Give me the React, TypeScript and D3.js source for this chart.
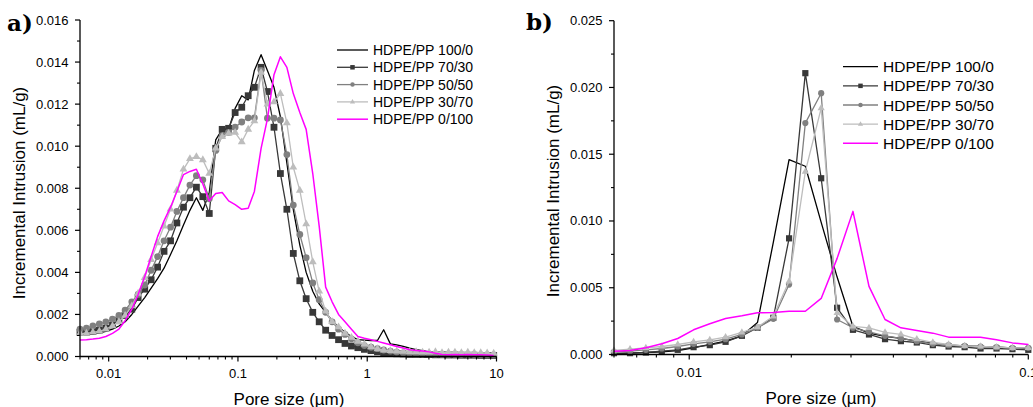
import React from 'react';
import * as d3 from 'd3';

// ---------- Panel a) : pore size grid (µm) ----------
const poreA = [
  0.00600, 0.00673, 0.00755, 0.00847, 0.00951, 0.0107, 0.0120, 0.0134, 0.0151, 0.0169,
  0.0190, 0.0213, 0.0239, 0.0268, 0.0301, 0.0337, 0.0379, 0.0425, 0.0477, 0.0535,
  0.0600, 0.0673, 0.0755, 0.0847, 0.0951, 0.107, 0.120, 0.134, 0.151, 0.169,
  0.190, 0.213, 0.239, 0.268, 0.301, 0.337, 0.379, 0.425, 0.477, 0.535,
  0.600, 0.673, 0.755, 0.847, 0.951, 1.07, 1.20, 1.34, 1.51, 1.69,
  1.90, 2.13, 2.39, 2.68, 3.01, 3.37, 3.79, 4.25, 4.77, 5.35,
  6.00, 6.73, 7.55, 8.47, 9.51,
];
// incremental intrusion, in 10^-3 mL/g
const a100_0 = [
  1.05, 1.05, 1.07, 1.12, 1.2, 1.3, 1.45, 1.65, 2.0, 2.4,
  2.8, 3.25, 3.7, 4.2, 4.85, 5.5, 6.25, 6.95, 7.55, 6.95,
  7.8, 10.3, 10.8, 10.8, 11.8, 12.4, 12.2, 13.6, 14.35, 13.6,
  12.8, 11.4, 9.2, 7.0, 5.3, 4.0, 3.1, 2.5, 2.1, 1.7,
  1.4, 1.15, 0.95, 0.8, 0.78, 0.76, 0.76, 1.27, 0.6, 0.55,
  0.48, 0.4, 0.33, 0.28, 0.22, 0.18, 0.15, 0.12, 0.1, 0.1,
  0.09, 0.08, 0.08, 0.07, 0.06,
];
const a70_30 = [
  1.15, 1.15, 1.2, 1.25, 1.35, 1.5, 1.7, 1.95, 2.25, 2.8,
  3.2, 3.65, 4.25, 5.0, 5.5, 6.35, 7.1, 7.55, 8.05, 7.6,
  6.8, 9.9, 10.8, 10.85, 11.6, 11.85, 12.4, 12.8, 13.75, 12.6,
  10.9, 8.7, 7.0, 4.9, 3.6, 2.75, 2.1, 1.65, 1.25, 1.0,
  0.8, 0.62, 0.5, 0.42, 0.34, 0.28, 0.22, 0.18, 0.15, 0.13,
  0.12, 0.1, 0.1, 0.09, 0.09, 0.08, 0.08, 0.07, 0.07, 0.06,
  0.06, 0.06, 0.05, 0.05, 0.05,
];
const a50_50 = [
  1.3, 1.35, 1.45, 1.55, 1.65, 1.78, 1.95, 2.2, 2.6, 2.95,
  3.4, 4.1, 4.75, 5.5, 6.15, 6.9, 7.55, 8.15, 8.6, 8.4,
  7.5, 9.8, 10.5, 10.65, 10.9, 11.15, 11.35, 11.35, 13.6, 11.33,
  11.33, 11.25, 9.6, 7.2, 5.8, 4.7, 3.5, 2.7, 2.1, 1.65,
  1.3, 1.05, 0.84, 0.65, 0.52, 0.44, 0.37, 0.31, 0.26, 0.21,
  0.17, 0.15, 0.13, 0.12, 0.12, 0.11, 0.1, 0.1, 0.1, 0.09,
  0.09, 0.09, 0.08, 0.08, 0.08,
];
const a30_70 = [
  1.1, 1.1, 1.15, 1.2, 1.3, 1.45, 1.65, 1.95, 2.4, 3.0,
  3.75, 4.6, 5.4, 6.2, 7.0, 7.9, 8.9, 9.4, 9.5, 9.35,
  8.7, 9.9, 10.45, 10.6, 10.65, 10.2, 10.8, 11.2, 13.5, 12.0,
  12.1, 12.5, 11.1, 9.0, 7.9, 6.3, 4.5, 3.1, 2.15, 1.65,
  1.4, 1.1, 0.9, 0.72, 0.58, 0.45, 0.36, 0.3, 0.27, 0.25,
  0.24, 0.22, 0.22, 0.2, 0.2, 0.22, 0.18, 0.2, 0.2, 0.18,
  0.2, 0.18, 0.18, 0.16, 0.15,
];
const a0_100 = [
  0.79, 0.8, 0.83, 0.87, 0.95, 1.1, 1.3, 1.7, 2.25, 2.95,
  3.8, 4.75, 5.7, 6.45, 7.1, 7.85, 8.65, 8.8, 8.9, 8.2,
  7.4, 7.75, 7.8, 7.4, 7.22, 7.0, 7.05, 7.85, 9.9, 11.3,
  13.4, 14.25, 13.75, 12.5, 11.6, 10.8, 8.7, 6.2, 3.3, 2.6,
  2.0, 1.65, 1.3, 0.95, 0.87, 0.8, 0.72, 0.64, 0.56, 0.48,
  0.4, 0.32, 0.29, 0.26, 0.22, 0.15, 0.09, 0.08, 0.09, 0.08,
  0.09, 0.08, 0.08, 0.07, 0.05,
];

// ---------- Panel b) ----------
const poreB = [
  0.00600, 0.00669, 0.00745, 0.00830, 0.00925, 0.0103, 0.0115, 0.0128, 0.0143, 0.0159,
  0.0177, 0.0197, 0.0220, 0.0245, 0.0273, 0.0304, 0.0339, 0.0378, 0.0421, 0.0469,
  0.0523, 0.0582, 0.0649, 0.0723, 0.0806, 0.0898, 0.100,
];
const b100_0 = [
  0.05, 0.1, 0.15, 0.2, 0.3, 0.5, 0.75, 1.0, 1.4, 2.4,
  8.4, 14.6, 14.1, 9.9, 5.8, 2.1, 1.6, 1.35, 1.2, 1.0,
  0.85, 0.7, 0.65, 0.6, 0.55, 0.5, 0.45,
];
const b70_30 = [
  0.1, 0.1, 0.15, 0.25, 0.35, 0.55, 0.7, 0.95, 1.4, 2.0,
  2.75, 8.7, 21.07, 13.2, 3.5, 1.85, 1.5, 1.15, 1.0, 0.9,
  0.7, 0.6, 0.55, 0.45, 0.45, 0.4, 0.35,
];
const b50_50 = [
  0.2, 0.25, 0.35, 0.45, 0.6, 0.8, 0.95, 1.15, 1.5, 2.0,
  2.67, 5.24, 17.33, 19.57, 2.62, 2.0, 1.7, 1.4, 1.2, 1.0,
  0.8, 0.7, 0.65, 0.6, 0.55, 0.5, 0.5,
];
const b30_70 = [
  0.3, 0.4, 0.5, 0.6, 0.75, 0.95, 1.1, 1.3, 1.65, 2.05,
  2.86, 5.48, 13.7, 18.45, 3.12, 2.1, 2.0, 1.65, 1.5, 1.15,
  0.9, 0.75, 0.65, 0.6, 0.55, 0.5, 0.5,
];
const b0_100 = [
  0.25, 0.3, 0.5, 0.8, 1.2, 1.85, 2.3, 2.7, 2.9, 3.12,
  3.15, 3.24, 3.24, 4.2, 7.2, 10.72, 5.1, 2.62, 2.0, 1.8,
  1.6, 1.3, 1.3, 1.3, 1.1, 0.87, 0.75,
];

const seriesNames = ['HDPE/PP 100/0', 'HDPE/PP 70/30', 'HDPE/PP 50/50', 'HDPE/PP 30/70', 'HDPE/PP 0/100'];

const yTicksA = [0, 0.002, 0.004, 0.006, 0.008, 0.01, 0.012, 0.014, 0.016];
const yTicksB = [0, 0.005, 0.01, 0.015, 0.02, 0.025];
const xTicksA = [0.01, 0.1, 1, 10];
const xLabelsA = ['0.01', '0.1', '1', '10'];
const xTicksB = [0.01, 0.1];
const xLabelsB = ['0.01', '0.1'];

const yTitle = 'Incremental Intrusion (mL/g)';
const xTitle = 'Pore size (µm)';

type Marker = 'none' | 'square' | 'circle' | 'triangle';
const styles: { color: string; marker: Marker; width: number }[] = [
  { color: '#000000', marker: 'none', width: 1.3 },
  { color: '#383838', marker: 'square', width: 1.3 },
  { color: '#808080', marker: 'circle', width: 1.3 },
  { color: '#bdbdbd', marker: 'triangle', width: 1.3 },
  { color: '#ff00ff', marker: 'none', width: 1.5 },
];

const FONT = '"Liberation Sans", Arial, sans-serif';

function markerPath(m: Marker, size: number): string {
  if (m === 'square') return d3.symbol(d3.symbolSquare, size * size)() as string;
  if (m === 'circle') return d3.symbol(d3.symbolCircle, Math.PI * (size / 2) * (size / 2))() as string;
  if (m === 'triangle') return d3.symbol(d3.symbolTriangle, (Math.sqrt(3) / 4) * size * size * 1.35)() as string;
  return '';
}

type PanelCfg = {
  label: string;
  labelX: number;
  labelY: number;
  pores: number[];
  series: number[][];
  xDomain: [number, number];
  xRange: [number, number];
  yDomain: [number, number];
  yRange: [number, number];
  yTicks: number[];
  xTicks: number[];
  xLabels: string[];
  yTitleX: number;
  yTitleY: number;
  xTitleX: number;
  xTitleY: number;
  xLabelY: number;
  legend: { x0: number; x1: number; tx: number; y0: number; dy: number; fs: number };
  markerSize: number;
};

function Panel({ c }: { c: PanelCfg }) {
  const x = d3.scaleLog().domain(c.xDomain).range(c.xRange);
  const y = d3.scaleLinear().domain(c.yDomain).range(c.yRange);
  const [x0, x1] = c.xRange;
  const yBottom = c.yRange[0];
  const yTop = c.yRange[1];

  const minorY: number[] = [];
  for (let i = 0; i < c.yTicks.length - 1; i++) minorY.push((c.yTicks[i] + c.yTicks[i + 1]) / 2);

  const minorX: number[] = [];
  for (let e = -3; e <= 1; e++) {
    for (let m = 2; m <= 9; m++) {
      const v = m * Math.pow(10, e);
      if (v >= c.xDomain[0] * 0.999 && v <= c.xDomain[1] * 1.001) minorX.push(v);
    }
  }

  const line = (vals: number[]) =>
    d3
      .line<number>()
      .x((_, i) => x(c.pores[i]))
      .y((d) => y(d * 1e-3))(vals) as string;

  const fmt = d3.format('.3f');

  return (
    <g>
      <text x={c.labelX} y={c.labelY} fontFamily='"DejaVu Serif", "Liberation Serif", serif' fontWeight="bold" fontSize={23}>
        {c.label}
      </text>

      {c.series.map((vals, si) => {
        const st = styles[si];
        const mp = markerPath(st.marker, c.markerSize);
        return (
          <g key={si}>
            <path d={line(vals)} fill="none" stroke={st.color} strokeWidth={st.width} strokeLinejoin="round" />
            {st.marker !== 'none' &&
              vals.map((v, i) => (
                <path key={i} d={mp} transform={`translate(${x(c.pores[i])},${y(v * 1e-3)})`} fill={st.color} />
              ))}
          </g>
        );
      })}

      <line x1={x0} x2={x0} y1={yTop} y2={yBottom + 0.5} stroke="#000" strokeWidth={1.3} />
      <line x1={x0} x2={x1} y1={yBottom} y2={yBottom} stroke="#000" strokeWidth={1.3} />
      {c.yTicks.map((t) => (
        <g key={'yt' + t}>
          <line x1={x0 - 5} x2={x0} y1={y(t)} y2={y(t)} stroke="#000" strokeWidth={1.2} />
          <text x={x0 - 11.5} y={y(t)} textAnchor="end" dominantBaseline="central" fontFamily={FONT} fontSize={13}>
            {fmt(t)}
          </text>
        </g>
      ))}
      {minorY.map((t) => (
        <line key={'ym' + t} x1={x0 - 3} x2={x0} y1={y(t)} y2={y(t)} stroke="#000" strokeWidth={1.1} />
      ))}
      {c.xTicks.map((t, i) => (
        <g key={'xt' + t}>
          <line x1={x(t)} x2={x(t)} y1={yBottom} y2={yBottom + 5} stroke="#000" strokeWidth={1.2} />
          <text x={x(t)} y={c.xLabelY} textAnchor="middle" dominantBaseline="central" fontFamily={FONT} fontSize={13}>
            {c.xLabels[i]}
          </text>
        </g>
      ))}
      {minorX.map((t) => (
        <line key={'xm' + t} x1={x(t)} x2={x(t)} y1={yBottom} y2={yBottom + 3} stroke="#000" strokeWidth={1.1} />
      ))}

      <text
        transform={`translate(${c.yTitleX},${c.yTitleY}) rotate(-90)`}
        textAnchor="middle"
        dominantBaseline="central"
        fontFamily={FONT}
        fontSize={17}
      >
        {yTitle}
      </text>
      <text x={c.xTitleX} y={c.xTitleY} textAnchor="middle" dominantBaseline="central" fontFamily={FONT} fontSize={17}>
        {xTitle}
      </text>

      {seriesNames.map((name, si) => {
        const st = styles[si];
        const ly = c.legend.y0 + si * c.legend.dy;
        const mx = (c.legend.x0 + c.legend.x1) / 2;
        return (
          <g key={'lg' + si}>
            <line x1={c.legend.x0} x2={c.legend.x1} y1={ly} y2={ly} stroke={st.color} strokeWidth={st.width} />
            {st.marker !== 'none' && (
              <path d={markerPath(st.marker, 4.5)} transform={`translate(${mx},${ly})`} fill={st.color} />
            )}
            <text x={c.legend.tx} y={ly} dominantBaseline="central" fontFamily={FONT} fontSize={c.legend.fs}>
              {name}
            </text>
          </g>
        );
      })}
    </g>
  );
}

const panelA: PanelCfg = {
  label: 'a)',
  labelX: 7,
  labelY: 31,
  pores: poreA,
  series: [a100_0, a70_30, a50_50, a30_70, a0_100],
  xDomain: [0.006, 10],
  xRange: [80, 496.5],
  yDomain: [0, 0.016],
  yRange: [356.5, 20],
  yTicks: yTicksA,
  xTicks: xTicksA,
  xLabels: xLabelsA,
  yTitleX: 19,
  yTitleY: 193,
  xTitleX: 289,
  xTitleY: 399,
  xLabelY: 373,
  legend: { x0: 337, x1: 368, tx: 373, y0: 50, dy: 17.3, fs: 14 },
  markerSize: 6.8,
};

const panelB: PanelCfg = {
  label: 'b)',
  labelX: 526,
  labelY: 30,
  pores: poreB,
  series: [b100_0, b70_30, b50_50, b30_70, b0_100],
  xDomain: [0.006, 0.1],
  xRange: [614, 1028.3],
  yDomain: [0, 0.025],
  yRange: [354.5, 20.7],
  yTicks: yTicksB,
  xTicks: xTicksB,
  xLabels: xLabelsB,
  yTitleX: 553,
  yTitleY: 191,
  xTitleX: 821,
  xTitleY: 398,
  xLabelY: 372,
  legend: { x0: 843, x1: 878, tx: 883, y0: 66.7, dy: 19.15, fs: 15.5 },
  markerSize: 6.2,
};

export default function App() {
  return (
    <svg
      width={1033}
      height={407}
      viewBox="0 0 1033 407"
      style={{ position: 'absolute', left: 0, top: 0, display: 'block', background: '#fff' }}
    >
      <rect x={0} y={0} width={1033} height={407} fill="#fff" />
      <Panel c={panelA} />
      <Panel c={panelB} />
    </svg>
  );
}
